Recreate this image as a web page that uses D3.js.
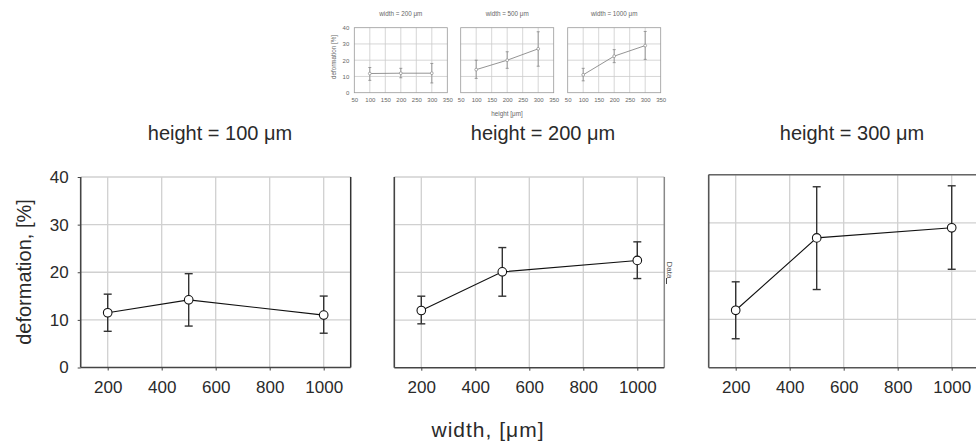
<!DOCTYPE html>
<html><head><meta charset="utf-8">
<script src="https://cdn.jsdelivr.net/npm/d3@7"></script>
<style>
body{margin:0;background:#fff;}
svg{display:block;font-family:"Liberation Sans",Arial,sans-serif;}
</style></head>
<body><svg id="c" width="976" height="447"></svg>
<script>
// ---- data ----
const xTicks = [200, 400, 600, 800, 1000];
const yTicks = [0, 10, 20, 30, 40];
const widths = [200, 500, 1000];
const panelTitles = ["height = 100 \u03bcm", "height = 200 \u03bcm", "height = 300 \u03bcm"];
const mean_h100 = [11.5, 14.2, 11.0];
const hi_h100   = [15.4, 19.7, 15.0];
const lo_h100   = [7.6, 8.7, 7.2];
const mean_h200 = [12.0, 20.1, 22.5];
const hi_h200   = [15.0, 25.2, 26.4];
const lo_h200   = [9.2, 15.0, 18.7];
const mean_h300 = [11.9, 26.9, 29.0];
const hi_h300   = [17.8, 37.5, 37.7];
const lo_h300   = [6.0, 16.2, 20.4];

// inset (small preview) data
const insetXTicks = [50, 100, 150, 200, 250, 300, 350];
const insetYTicks = [0, 10, 20, 30, 40];
const heights = [100, 200, 300];
const insetTitles = ["width = 200 \u03bcm", "width = 500 \u03bcm", "width = 1000 \u03bcm"];
const mean_w200 = [11.8, 12.0, 12.0];
const hi_w200   = [15.5, 15.0, 18.0];
const lo_w200   = [7.6, 9.2, 6.0];
const mean_w500 = [14.2, 20.0, 27.0];
const hi_w500   = [20.0, 25.2, 37.5];
const lo_w500   = [8.8, 15.0, 16.3];
const mean_w1000 = [11.0, 22.5, 29.0];
const hi_w1000   = [15.0, 26.5, 37.7];
const lo_w1000   = [7.3, 18.5, 20.5];

const mainSeries = [[mean_h100, hi_h100, lo_h100],[mean_h200, hi_h200, lo_h200],[mean_h300, hi_h300, lo_h300]];
const insetSeries = [[mean_w200, hi_w200, lo_w200],[mean_w500, hi_w500, lo_w500],[mean_w1000, hi_w1000, lo_w1000]];

const svg = d3.select("#c");

// ---- main panels ----
const frames = [
  {x:80.7, y:177, w:270, h:190.5, left:"#444", right:"#333", top:null, bottom:"#444"},
  {x:394.3, y:177, w:270, h:190.7, left:"#444", right:"#888", top:null, bottom:"#444"},
  {x:708.7, y:174.7, w:270, h:193, left:"#555", right:"#555", top:"#666", bottom:"#555"}
];
const titleX = [220, 543, 852];

frames.forEach((f, i) => {
  const g = svg.append("g").attr("transform", `translate(${f.x},${f.y})`);
  const x = d3.scaleLinear().domain([100, 1100]).range([0, f.w]);
  const y = d3.scaleLinear().domain([0, 40]).range([f.h, 0]);
  g.selectAll(".vg").data(xTicks).join("line")
    .attr("x1", d => x(d)).attr("x2", d => x(d)).attr("y1", 0).attr("y2", f.h)
    .attr("stroke", "#d0d0d0").attr("stroke-width", 1.3);
  g.selectAll(".hg").data(yTicks.filter(d => d > 0)).join("line")
    .attr("x1", 0).attr("x2", f.w).attr("y1", d => y(d)).attr("y2", d => y(d))
    .attr("stroke", "#d0d0d0").attr("stroke-width", 1.3);
  if (f.top) g.append("line").attr("x1",0).attr("x2",f.w).attr("y1",0).attr("y2",0).attr("stroke",f.top).attr("stroke-width",1.5);
  g.append("line").attr("x1",f.w).attr("x2",f.w).attr("y1",0).attr("y2",f.h).attr("stroke",f.right).attr("stroke-width",1.5);
  const xa = g.append("g").attr("transform", `translate(0,${f.h})`)
    .call(d3.axisBottom(x).tickValues(xTicks).tickSize(3).tickPadding(10).tickFormat(d3.format("d")));
  xa.select(".domain").attr("stroke", f.bottom).attr("stroke-width", 1.6).attr("d", `M0,0H${f.w}`);
  xa.selectAll(".tick line").attr("stroke", "#444");
  xa.selectAll("text").attr("font-size", 17).attr("fill", "#2a2a2a").attr("font-family", "Liberation Sans, Arial, sans-serif");
  const ya = g.append("g").call(d3.axisLeft(y).tickValues(yTicks).tickSize(i === 0 ? 3 : 0).tickPadding(9).tickFormat(d3.format("d")));
  ya.select(".domain").attr("stroke", f.left).attr("stroke-width", 1.6).attr("d", `M0,0V${f.h}`);
  ya.selectAll(".tick line").attr("stroke", "#444");
  ya.selectAll("text").attr("font-size", 17).attr("fill", "#2a2a2a").attr("font-family", "Liberation Sans, Arial, sans-serif")
    .style("display", i === 0 ? null : "none");

  const [m, hi, lo] = mainSeries[i];
  const pts = widths.map((w, k) => ({w, m: m[k], hi: hi[k], lo: lo[k]}));
  const eb = g.selectAll(".eb").data(pts).join("g");
  eb.append("line").attr("x1", d => x(d.w)).attr("x2", d => x(d.w)).attr("y1", d => y(d.hi)).attr("y2", d => y(d.lo))
    .attr("stroke", "#333").attr("stroke-width", 1.4);
  eb.append("line").attr("x1", d => x(d.w) - 4).attr("x2", d => x(d.w) + 4).attr("y1", d => y(d.hi)).attr("y2", d => y(d.hi))
    .attr("stroke", "#333").attr("stroke-width", 1.4);
  eb.append("line").attr("x1", d => x(d.w) - 4).attr("x2", d => x(d.w) + 4).attr("y1", d => y(d.lo)).attr("y2", d => y(d.lo))
    .attr("stroke", "#333").attr("stroke-width", 1.4);
  g.append("path").datum(pts).attr("fill", "none").attr("stroke", "#111").attr("stroke-width", 1.1)
    .attr("d", d3.line().x(d => x(d.w)).y(d => y(d.m)));
  g.selectAll(".pt").data(pts).join("circle").attr("cx", d => x(d.w)).attr("cy", d => y(d.m)).attr("r", 4.3)
    .attr("fill", "#fff").attr("stroke", "#111").attr("stroke-width", 1.1);

  svg.append("text").attr("x", titleX[i]).attr("y", 140).attr("text-anchor", "middle")
    .attr("font-size", 20).attr("fill", "#2a2a2a").text(panelTitles[i]);
});

// clipped label fragment at right of panel 2
svg.append("text").attr("transform", "translate(667,270) rotate(90)").attr("text-anchor", "middle")
  .attr("font-size", 8).attr("fill", "#555").text("Data");
svg.append("line").attr("x1", 666.5).attr("x2", 666.5).attr("y1", 278).attr("y2", 284).attr("stroke", "#444");

svg.append("text").attr("transform", "translate(31,272) rotate(-90)").attr("text-anchor", "middle")
  .attr("font-size", 20).attr("fill", "#2a2a2a").text("deformation, [%]");
svg.append("text").attr("x", 488).attr("y", 437).attr("text-anchor", "middle")
  .attr("font-size", 21).attr("fill", "#2a2a2a").attr("letter-spacing", 1).text("width, [\u03bcm]");

// ---- inset ----
const insetX = [354.3, 460.7, 567.7];
const insetW = 93, insetTop = 27.7, insetH = 65;
insetX.forEach((ix, i) => {
  const g = svg.append("g").attr("transform", `translate(${ix},${insetTop})`);
  const x = d3.scaleLinear().domain([50, 350]).range([0, insetW]);
  const y = d3.scaleLinear().domain([0, 40]).range([insetH, 0]);
  g.selectAll(".vg").data(insetXTicks.slice(1, -1)).join("line")
    .attr("x1", d => x(d)).attr("x2", d => x(d)).attr("y1", 0).attr("y2", insetH).attr("stroke", "#ccc").attr("stroke-width", 0.8);
  g.selectAll(".hg").data(insetYTicks.slice(1, -1)).join("line")
    .attr("x1", 0).attr("x2", insetW).attr("y1", d => y(d)).attr("y2", d => y(d)).attr("stroke", "#ccc").attr("stroke-width", 0.8);
  g.append("rect").attr("width", insetW).attr("height", insetH).attr("fill", "none").attr("stroke", "#999").attr("stroke-width", 0.8);
  const xa = g.append("g").attr("transform", `translate(0,${insetH})`)
    .call(d3.axisBottom(x).tickValues(insetXTicks).tickSize(0).tickPadding(5));
  xa.select(".domain").remove();
  xa.selectAll("text").attr("font-size", 6).attr("fill", "#666");
  if (i === 0) {
    const ya = g.append("g").call(d3.axisLeft(y).tickValues(insetYTicks).tickSize(0).tickPadding(5));
    ya.select(".domain").remove();
    ya.selectAll("text").attr("font-size", 6).attr("fill", "#666");
  }
  const [m, hi, lo] = insetSeries[i];
  const pts = heights.map((h, k) => ({h, m: m[k], hi: hi[k], lo: lo[k]}));
  const eb = g.selectAll(".eb").data(pts).join("g");
  eb.append("line").attr("x1", d => x(d.h)).attr("x2", d => x(d.h)).attr("y1", d => y(d.hi)).attr("y2", d => y(d.lo)).attr("stroke", "#888").attr("stroke-width", 0.8);
  eb.append("line").attr("x1", d => x(d.h) - 1.5).attr("x2", d => x(d.h) + 1.5).attr("y1", d => y(d.hi)).attr("y2", d => y(d.hi)).attr("stroke", "#888").attr("stroke-width", 0.8);
  eb.append("line").attr("x1", d => x(d.h) - 1.5).attr("x2", d => x(d.h) + 1.5).attr("y1", d => y(d.lo)).attr("y2", d => y(d.lo)).attr("stroke", "#888").attr("stroke-width", 0.8);
  g.append("path").datum(pts).attr("fill", "none").attr("stroke", "#888").attr("stroke-width", 0.9)
    .attr("d", d3.line().x(d => x(d.h)).y(d => y(d.m)));
  g.selectAll(".pt").data(pts).join("circle").attr("cx", d => x(d.h)).attr("cy", d => y(d.m)).attr("r", 1.4)
    .attr("fill", "#fff").attr("stroke", "#888").attr("stroke-width", 0.7);
  svg.append("text").attr("x", ix + insetW / 2).attr("y", 15.5).attr("text-anchor", "middle")
    .attr("font-size", 6.3).attr("fill", "#666").text(insetTitles[i]);
});
svg.append("text").attr("transform", "translate(336,57) rotate(-90)").attr("text-anchor", "middle")
  .attr("font-size", 6.3).attr("fill", "#666").text("deformation [%]");
svg.append("text").attr("x", 507).attr("y", 116).attr("text-anchor", "middle")
  .attr("font-size", 6.3).attr("fill", "#666").text("height [\u03bcm]");
</script></body></html>
